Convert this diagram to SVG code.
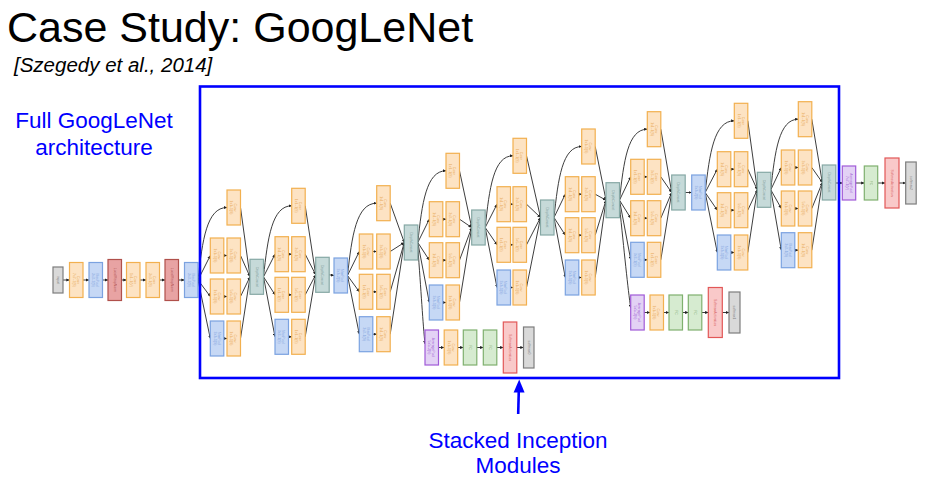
<svg xmlns="http://www.w3.org/2000/svg" width="927" height="485" viewBox="0 0 927 485">
<style>
rect{stroke-width:1.2}
.cv{fill:#fde3c3;stroke:#f2b04f}
.mp{fill:#c6d8f5;stroke:#7ba2e0}
.lr{fill:#e8a3a3;stroke:#b0504b}
.dc{fill:#c6dad9;stroke:#86a8a5}
.ip{fill:#d9d9d9;stroke:#7d7d7d}
.ap{fill:#e3d2f5;stroke:#a05ad8}
.fc{fill:#d6ebd0;stroke:#7fb06e}
.sa{fill:#f9c9c9;stroke:#e25757}
.t{font-family:"Liberation Sans",Arial,sans-serif;font-size:3.4px;text-anchor:middle;opacity:0.75}
.tcv{fill:#e39a3c}.tmp{fill:#6f95d8}.tlr{fill:#a0403c}.tdc{fill:#6d8f8c}.tip{fill:#666}.tap{fill:#9048cc}.tfc{fill:#6fa05e}.tsa{fill:#d04848}
#connectors path{fill:none;stroke:#333;stroke-width:0.95;marker-end:url(#ah)}
.big{font-family:"Liberation Sans",Arial,sans-serif}
.blue{fill:#0000ff;font-size:22.5px;text-anchor:middle}
</style>
<defs>
<marker id="ah" viewBox="0 0 6 6" refX="6" refY="3" markerWidth="3.2" markerHeight="3.2" markerUnits="userSpaceOnUse" orient="auto"><path d="M0,0L6,3L0,6z" fill="#222"/></marker>
</defs>
<rect x="0" y="0" width="927" height="485" fill="#fff" style="stroke:none"/>
<text class="big" x="7" y="42" font-size="43" fill="#000">Case Study: GoogLeNet</text>
<text class="big" x="14" y="72" font-size="20.5" font-style="italic" fill="#000">[Szegedy et al., 2014]</text>
<text class="big blue" x="94" y="128">Full GoogLeNet</text>
<text class="big blue" x="94" y="155">architecture</text>
<text class="big blue" x="518" y="448">Stacked Inception</text>
<text class="big blue" x="518" y="473">Modules</text>

<g id="connectors">
<path d="M63,280L69.5,280"/><path d="M83,280L89,280"/><path d="M102.5,280L108,280"/><path d="M121.5,280L126.5,280"/><path d="M140,280L146,280"/><path d="M159.5,280L165,280"/><path d="M178.5,280L184.5,280"/>
<path d="M198,280C202.4,240.1 206.7,207.5 227,207.5"/><path d="M198,280L210.3,255.5"/><path d="M198,280L210.3,296.5"/><path d="M198,280L210.3,338.5"/>
<path d="M223.8,255.5L227,255.5"/><path d="M223.8,296.5L227,296.5"/><path d="M223.8,338.5L227,338.5"/>
<path d="M240.5,207.5L250,276.8"/><path d="M240.5,255.5L250,276.8"/><path d="M240.5,296.5L250,276.8"/><path d="M240.5,338.5L250,276.8"/>
<path d="M263.5,276.8C267.7,237.8 272,205.8 291.7,205.8"/><path d="M263.5,276.8L275,254.2"/><path d="M263.5,276.8L275,294.8"/><path d="M263.5,276.8L275,336.8"/>
<path d="M288.5,254.2L291.7,254.2"/><path d="M288.5,294.8L291.7,294.8"/><path d="M288.5,336.8L291.7,336.8"/>
<path d="M305.2,205.8L315.7,274.8"/><path d="M305.2,254.2L315.7,274.8"/><path d="M305.2,294.8L315.7,274.8"/><path d="M305.2,336.8L315.7,274.8"/>
<path d="M329.2,274.8L334,275.5"/>
<path d="M347.5,275.5C351.9,235.7 356.3,203.2 376.7,203.2"/><path d="M347.5,275.5L359.3,251.5"/><path d="M347.5,275.5L359.3,291.8"/><path d="M347.5,275.5L359.3,334.2"/>
<path d="M372.8,251.5L376.7,251.5"/><path d="M372.8,291.8L376.7,291.8"/><path d="M372.8,334.2L376.7,334.2"/>
<path d="M390.2,203.2L404.3,242.5"/><path d="M390.2,251.5L404.3,242.5"/><path d="M390.2,291.8L404.3,242.5"/><path d="M390.2,334.2L404.3,242.5"/>
<path d="M417.8,242.5C422,203.1 426.3,170.8 446,170.8"/><path d="M417.8,242.5L429.3,219.2"/><path d="M417.8,242.5L429.3,260.2"/><path d="M417.8,242.5L429.3,302.5"/>
<path d="M442.8,219.2L446,219.2"/><path d="M442.8,260.2L446,260.2"/><path d="M442.8,302.5L446,302.5"/>
<path d="M459.5,170.8L471.7,227.5"/><path d="M459.5,219.2L471.7,227.5"/><path d="M459.5,260.2L471.7,227.5"/><path d="M459.5,302.5L471.7,227.5"/>
<path d="M485.2,227.5C489.4,188.1 493.5,155.8 513,155.8"/><path d="M485.2,227.5L497,204.2"/><path d="M485.2,227.5L497,244.8"/><path d="M485.2,227.5L497,287.5"/>
<path d="M510.5,204.2L513,204.2"/><path d="M510.5,244.8L513,244.8"/><path d="M510.5,287.5L513,287.5"/>
<path d="M526.5,155.8L540.5,217.5"/><path d="M526.5,204.2L540.5,217.5"/><path d="M526.5,244.8L540.5,217.5"/><path d="M526.5,287.5L540.5,217.5"/>
<path d="M554,217.5C558.2,178.4 562.3,146.5 581.7,146.5"/><path d="M554,217.5L565.3,194.2"/><path d="M554,217.5L565.3,235.2"/><path d="M554,217.5L565.3,277.5"/>
<path d="M578.8,194.2L581.7,194.2"/><path d="M578.8,235.2L581.7,235.2"/><path d="M578.8,277.5L581.7,277.5"/>
<path d="M595.2,146.5L606,200.2"/><path d="M595.2,194.2L606,200.2"/><path d="M595.2,235.2L606,200.2"/><path d="M595.2,277.5L606,200.2"/>
<path d="M619.5,200.2C623.7,161.1 627.8,129.2 647.3,129.2"/><path d="M619.5,200.2L630.7,176.8"/><path d="M619.5,200.2L630.7,218.2"/><path d="M619.5,200.2L630.7,259.8"/>
<path d="M644.2,176.8L647.3,176.8"/><path d="M644.2,218.2L647.3,218.2"/><path d="M644.2,259.8L647.3,259.8"/>
<path d="M660.8,129.2L671.7,192.5"/><path d="M660.8,176.8L671.7,192.5"/><path d="M660.8,218.2L671.7,192.5"/><path d="M660.8,259.8L671.7,192.5"/>
<path d="M685.2,192.5L691.7,192.5"/>
<path d="M705.2,192.5C709.6,153.1 714,120.8 734.3,120.8"/><path d="M705.2,192.5L717.3,169.2"/><path d="M705.2,192.5L717.3,210.2"/><path d="M705.2,192.5L717.3,252.5"/>
<path d="M730.8,169.2L734.3,169.2"/><path d="M730.8,210.2L734.3,210.2"/><path d="M730.8,252.5L734.3,252.5"/>
<path d="M747.8,120.8L757.3,189.8"/><path d="M747.8,169.2L757.3,189.8"/><path d="M747.8,210.2L757.3,189.8"/><path d="M747.8,252.5L757.3,189.8"/>
<path d="M770.8,189.8C774.9,151 779.1,119.2 798.3,119.2"/><path d="M770.8,189.8L781.3,167.5"/><path d="M770.8,189.8L781.3,208.5"/><path d="M770.8,189.8L781.3,250.2"/>
<path d="M794.8,167.5L798.3,167.5"/><path d="M794.8,208.5L798.3,208.5"/><path d="M794.8,250.2L798.3,250.2"/>
<path d="M811.8,119.2L822.3,182.5"/><path d="M811.8,167.5L822.3,182.5"/><path d="M811.8,208.5L822.3,182.5"/><path d="M811.8,250.2L822.3,182.5"/>
<path d="M835.8,183L842.3,183"/><path d="M855.7,183L864.3,183"/><path d="M877.7,183L885,183"/><path d="M899,183L905.7,183"/>
<path d="M417.8,247C421,290 423,325 425,344"/>
<path d="M438.5,347.5L444.2,347.5"/><path d="M457.7,347.5L463.3,347.5"/><path d="M476.8,347.5L483.3,347.5"/><path d="M496.8,347.5L503.3,347.5"/><path d="M516.8,347.5L523.5,347.5"/>
<path d="M619.5,206C624,250 628,290 630.7,308"/>
<path d="M644.2,312.5L650,312.5"/><path d="M663.5,312.5L669,312.5"/><path d="M682.5,312.5L688.3,312.5"/><path d="M701.8,312.5L708.3,312.5"/><path d="M722.3,312.5L729,312.5"/>
</g>

<!-- stem -->
<g id="input"><rect class="ip" x="53" y="267" width="10" height="26"/><text class="t tip" x="58" y="281.2" transform="rotate(90 58 280)">input</text></g>
<g id="conv1"><rect class="cv" x="69.5" y="262.5" width="13.5" height="35"/><text class="t tcv" x="76.25" y="280" transform="rotate(90 76.25 280)"><tspan x="76.25" dy="-.6">Conv</tspan><tspan x="76.25" dy="4">7x7+2(S)</tspan></text></g>
<g id="pool1"><rect class="mp" x="89" y="262.5" width="13.5" height="35"/><text class="t tmp" x="95.75" y="280" transform="rotate(90 95.75 280)"><tspan x="95.75" dy="-.6">MaxPool</tspan><tspan x="95.75" dy="4">3x3+2(S)</tspan></text></g>
<g id="lrn1"><rect class="lr" x="108" y="259.5" width="13.5" height="41"/><text class="t tlr" x="114.75" y="281.2" transform="rotate(90 114.75 280)">LocalRespNorm</text></g>
<g id="conv2"><rect class="cv" x="126.5" y="262.5" width="13.5" height="35"/><text class="t tcv" x="133.25" y="280" transform="rotate(90 133.25 280)"><tspan x="133.25" dy="-.6">Conv</tspan><tspan x="133.25" dy="4">1x1+1(V)</tspan></text></g>
<g id="conv3"><rect class="cv" x="146" y="262.5" width="13.5" height="35"/><text class="t tcv" x="152.75" y="280" transform="rotate(90 152.75 280)"><tspan x="152.75" dy="-.6">Conv</tspan><tspan x="152.75" dy="4">3x3+1(S)</tspan></text></g>
<g id="lrn2"><rect class="lr" x="165" y="259.5" width="13.5" height="41"/><text class="t tlr" x="171.75" y="281.2" transform="rotate(90 171.75 280)">LocalRespNorm</text></g>
<g id="pool2"><rect class="mp" x="184.5" y="262.5" width="13.5" height="35"/><text class="t tmp" x="191.25" y="280" transform="rotate(90 191.25 280)"><tspan x="191.25" dy="-.6">MaxPool</tspan><tspan x="191.25" dy="4">3x3+2(S)</tspan></text></g>

<!-- M1 -->
<g id="m1-top"><rect class="cv" x="227" y="190" width="13.5" height="35"/><text class="t tcv" x="233.75" y="207.5" transform="rotate(90 233.75 207.5)"><tspan x="233.75" dy="-.6">Conv</tspan><tspan x="233.75" dy="4">1x1+1(S)</tspan></text></g>
<g id="m1-r2l"><rect class="cv" x="210.3" y="238" width="13.5" height="35"/><text class="t tcv" x="217.05" y="255.5" transform="rotate(90 217.05 255.5)"><tspan x="217.05" dy="-.6">Conv</tspan><tspan x="217.05" dy="4">1x1+1(S)</tspan></text></g>
<g id="m1-r2r"><rect class="cv" x="227" y="238" width="13.5" height="35"/><text class="t tcv" x="233.75" y="255.5" transform="rotate(90 233.75 255.5)"><tspan x="233.75" dy="-.6">Conv</tspan><tspan x="233.75" dy="4">3x3+1(S)</tspan></text></g>
<g id="m1-r3l"><rect class="cv" x="210.3" y="279" width="13.5" height="35"/><text class="t tcv" x="217.05" y="296.5" transform="rotate(90 217.05 296.5)"><tspan x="217.05" dy="-.6">Conv</tspan><tspan x="217.05" dy="4">1x1+1(S)</tspan></text></g>
<g id="m1-r3r"><rect class="cv" x="227" y="279" width="13.5" height="35"/><text class="t tcv" x="233.75" y="296.5" transform="rotate(90 233.75 296.5)"><tspan x="233.75" dy="-.6">Conv</tspan><tspan x="233.75" dy="4">5x5+1(S)</tspan></text></g>
<g id="m1-r4l"><rect class="mp" x="210.3" y="321" width="13.5" height="35"/><text class="t tmp" x="217.05" y="338.5" transform="rotate(90 217.05 338.5)"><tspan x="217.05" dy="-.6">MaxPool</tspan><tspan x="217.05" dy="4">3x3+1(S)</tspan></text></g>
<g id="m1-r4r"><rect class="cv" x="227" y="321" width="13.5" height="35"/><text class="t tcv" x="233.75" y="338.5" transform="rotate(90 233.75 338.5)"><tspan x="233.75" dy="-.6">Conv</tspan><tspan x="233.75" dy="4">1x1+1(S)</tspan></text></g>
<g id="m1-concat"><rect class="dc" x="250" y="259.3" width="13.5" height="35"/><text class="t tdc" x="256.75" y="278" transform="rotate(90 256.75 276.8)">DepthConcat</text></g>

<!-- M2 -->
<g id="m2-top"><rect class="cv" x="291.7" y="188.3" width="13.5" height="35"/><text class="t tcv" x="298.45" y="205.8" transform="rotate(90 298.45 205.8)"><tspan x="298.45" dy="-.6">Conv</tspan><tspan x="298.45" dy="4">1x1+1(S)</tspan></text></g>
<g id="m2-r2l"><rect class="cv" x="275" y="236.7" width="13.5" height="35"/><text class="t tcv" x="281.75" y="254.2" transform="rotate(90 281.75 254.2)"><tspan x="281.75" dy="-.6">Conv</tspan><tspan x="281.75" dy="4">1x1+1(S)</tspan></text></g>
<g id="m2-r2r"><rect class="cv" x="291.7" y="236.7" width="13.5" height="35"/><text class="t tcv" x="298.45" y="254.2" transform="rotate(90 298.45 254.2)"><tspan x="298.45" dy="-.6">Conv</tspan><tspan x="298.45" dy="4">3x3+1(S)</tspan></text></g>
<g id="m2-r3l"><rect class="cv" x="275" y="277.3" width="13.5" height="35"/><text class="t tcv" x="281.75" y="294.8" transform="rotate(90 281.75 294.8)"><tspan x="281.75" dy="-.6">Conv</tspan><tspan x="281.75" dy="4">1x1+1(S)</tspan></text></g>
<g id="m2-r3r"><rect class="cv" x="291.7" y="277.3" width="13.5" height="35"/><text class="t tcv" x="298.45" y="294.8" transform="rotate(90 298.45 294.8)"><tspan x="298.45" dy="-.6">Conv</tspan><tspan x="298.45" dy="4">5x5+1(S)</tspan></text></g>
<g id="m2-r4l"><rect class="mp" x="275" y="319.3" width="13.5" height="35"/><text class="t tmp" x="281.75" y="336.8" transform="rotate(90 281.75 336.8)"><tspan x="281.75" dy="-.6">MaxPool</tspan><tspan x="281.75" dy="4">3x3+1(S)</tspan></text></g>
<g id="m2-r4r"><rect class="cv" x="291.7" y="319.3" width="13.5" height="35"/><text class="t tcv" x="298.45" y="336.8" transform="rotate(90 298.45 336.8)"><tspan x="298.45" dy="-.6">Conv</tspan><tspan x="298.45" dy="4">1x1+1(S)</tspan></text></g>
<g id="m2-concat"><rect class="dc" x="315.7" y="257.3" width="13.5" height="35"/><text class="t tdc" x="322.45" y="276" transform="rotate(90 322.45 274.8)">DepthConcat</text></g>
<g id="pool3"><rect class="mp" x="334" y="258" width="13.5" height="35"/><text class="t tmp" x="340.75" y="275.5" transform="rotate(90 340.75 275.5)"><tspan x="340.75" dy="-.6">MaxPool</tspan><tspan x="340.75" dy="4">3x3+2(S)</tspan></text></g>

<!-- M3 -->
<g id="m3-top"><rect class="cv" x="376.7" y="185.7" width="13.5" height="35"/><text class="t tcv" x="383.45" y="203.2" transform="rotate(90 383.45 203.2)"><tspan x="383.45" dy="-.6">Conv</tspan><tspan x="383.45" dy="4">1x1+1(S)</tspan></text></g>
<g id="m3-r2l"><rect class="cv" x="359.3" y="234" width="13.5" height="35"/><text class="t tcv" x="366.05" y="251.5" transform="rotate(90 366.05 251.5)"><tspan x="366.05" dy="-.6">Conv</tspan><tspan x="366.05" dy="4">1x1+1(S)</tspan></text></g>
<g id="m3-r2r"><rect class="cv" x="376.7" y="234" width="13.5" height="35"/><text class="t tcv" x="383.45" y="251.5" transform="rotate(90 383.45 251.5)"><tspan x="383.45" dy="-.6">Conv</tspan><tspan x="383.45" dy="4">3x3+1(S)</tspan></text></g>
<g id="m3-r3l"><rect class="cv" x="359.3" y="274.3" width="13.5" height="35"/><text class="t tcv" x="366.05" y="291.8" transform="rotate(90 366.05 291.8)"><tspan x="366.05" dy="-.6">Conv</tspan><tspan x="366.05" dy="4">1x1+1(S)</tspan></text></g>
<g id="m3-r3r"><rect class="cv" x="376.7" y="274.3" width="13.5" height="35"/><text class="t tcv" x="383.45" y="291.8" transform="rotate(90 383.45 291.8)"><tspan x="383.45" dy="-.6">Conv</tspan><tspan x="383.45" dy="4">5x5+1(S)</tspan></text></g>
<g id="m3-r4l"><rect class="mp" x="359.3" y="316.7" width="13.5" height="35"/><text class="t tmp" x="366.05" y="334.2" transform="rotate(90 366.05 334.2)"><tspan x="366.05" dy="-.6">MaxPool</tspan><tspan x="366.05" dy="4">3x3+1(S)</tspan></text></g>
<g id="m3-r4r"><rect class="cv" x="376.7" y="316.7" width="13.5" height="35"/><text class="t tcv" x="383.45" y="334.2" transform="rotate(90 383.45 334.2)"><tspan x="383.45" dy="-.6">Conv</tspan><tspan x="383.45" dy="4">1x1+1(S)</tspan></text></g>
<g id="m3-concat"><rect class="dc" x="404.3" y="225" width="13.5" height="35"/><text class="t tdc" x="411.05" y="243.7" transform="rotate(90 411.05 242.5)">DepthConcat</text></g>

<!-- M4 -->
<g id="m4-top"><rect class="cv" x="446" y="153.3" width="13.5" height="35"/><text class="t tcv" x="452.75" y="170.8" transform="rotate(90 452.75 170.8)"><tspan x="452.75" dy="-.6">Conv</tspan><tspan x="452.75" dy="4">1x1+1(S)</tspan></text></g>
<g id="m4-r2l"><rect class="cv" x="429.3" y="201.7" width="13.5" height="35"/><text class="t tcv" x="436.05" y="219.2" transform="rotate(90 436.05 219.2)"><tspan x="436.05" dy="-.6">Conv</tspan><tspan x="436.05" dy="4">1x1+1(S)</tspan></text></g>
<g id="m4-r2r"><rect class="cv" x="446" y="201.7" width="13.5" height="35"/><text class="t tcv" x="452.75" y="219.2" transform="rotate(90 452.75 219.2)"><tspan x="452.75" dy="-.6">Conv</tspan><tspan x="452.75" dy="4">3x3+1(S)</tspan></text></g>
<g id="m4-r3l"><rect class="cv" x="429.3" y="242.7" width="13.5" height="35"/><text class="t tcv" x="436.05" y="260.2" transform="rotate(90 436.05 260.2)"><tspan x="436.05" dy="-.6">Conv</tspan><tspan x="436.05" dy="4">1x1+1(S)</tspan></text></g>
<g id="m4-r3r"><rect class="cv" x="446" y="242.7" width="13.5" height="35"/><text class="t tcv" x="452.75" y="260.2" transform="rotate(90 452.75 260.2)"><tspan x="452.75" dy="-.6">Conv</tspan><tspan x="452.75" dy="4">5x5+1(S)</tspan></text></g>
<g id="m4-r4l"><rect class="mp" x="429.3" y="285" width="13.5" height="35"/><text class="t tmp" x="436.05" y="302.5" transform="rotate(90 436.05 302.5)"><tspan x="436.05" dy="-.6">MaxPool</tspan><tspan x="436.05" dy="4">3x3+1(S)</tspan></text></g>
<g id="m4-r4r"><rect class="cv" x="446" y="285" width="13.5" height="35"/><text class="t tcv" x="452.75" y="302.5" transform="rotate(90 452.75 302.5)"><tspan x="452.75" dy="-.6">Conv</tspan><tspan x="452.75" dy="4">1x1+1(S)</tspan></text></g>
<g id="m4-concat"><rect class="dc" x="471.7" y="210" width="13.5" height="35"/><text class="t tdc" x="478.45" y="228.7" transform="rotate(90 478.45 227.5)">DepthConcat</text></g>

<!-- M5 -->
<g id="m5-top"><rect class="cv" x="513" y="138.3" width="13.5" height="35"/><text class="t tcv" x="519.75" y="155.8" transform="rotate(90 519.75 155.8)"><tspan x="519.75" dy="-.6">Conv</tspan><tspan x="519.75" dy="4">1x1+1(S)</tspan></text></g>
<g id="m5-r2l"><rect class="cv" x="497" y="186.7" width="13.5" height="35"/><text class="t tcv" x="503.75" y="204.2" transform="rotate(90 503.75 204.2)"><tspan x="503.75" dy="-.6">Conv</tspan><tspan x="503.75" dy="4">1x1+1(S)</tspan></text></g>
<g id="m5-r2r"><rect class="cv" x="513" y="186.7" width="13.5" height="35"/><text class="t tcv" x="519.75" y="204.2" transform="rotate(90 519.75 204.2)"><tspan x="519.75" dy="-.6">Conv</tspan><tspan x="519.75" dy="4">3x3+1(S)</tspan></text></g>
<g id="m5-r3l"><rect class="cv" x="497" y="227.3" width="13.5" height="35"/><text class="t tcv" x="503.75" y="244.8" transform="rotate(90 503.75 244.8)"><tspan x="503.75" dy="-.6">Conv</tspan><tspan x="503.75" dy="4">1x1+1(S)</tspan></text></g>
<g id="m5-r3r"><rect class="cv" x="513" y="227.3" width="13.5" height="35"/><text class="t tcv" x="519.75" y="244.8" transform="rotate(90 519.75 244.8)"><tspan x="519.75" dy="-.6">Conv</tspan><tspan x="519.75" dy="4">5x5+1(S)</tspan></text></g>
<g id="m5-r4l"><rect class="mp" x="497" y="270" width="13.5" height="35"/><text class="t tmp" x="503.75" y="287.5" transform="rotate(90 503.75 287.5)"><tspan x="503.75" dy="-.6">MaxPool</tspan><tspan x="503.75" dy="4">3x3+1(S)</tspan></text></g>
<g id="m5-r4r"><rect class="cv" x="513" y="270" width="13.5" height="35"/><text class="t tcv" x="519.75" y="287.5" transform="rotate(90 519.75 287.5)"><tspan x="519.75" dy="-.6">Conv</tspan><tspan x="519.75" dy="4">1x1+1(S)</tspan></text></g>
<g id="m5-concat"><rect class="dc" x="540.5" y="200" width="13.5" height="35"/><text class="t tdc" x="547.25" y="218.7" transform="rotate(90 547.25 217.5)">DepthConcat</text></g>

<!-- M6 -->
<g id="m6-top"><rect class="cv" x="581.7" y="129" width="13.5" height="35"/><text class="t tcv" x="588.45" y="146.5" transform="rotate(90 588.45 146.5)"><tspan x="588.45" dy="-.6">Conv</tspan><tspan x="588.45" dy="4">1x1+1(S)</tspan></text></g>
<g id="m6-r2l"><rect class="cv" x="565.3" y="176.7" width="13.5" height="35"/><text class="t tcv" x="572.05" y="194.2" transform="rotate(90 572.05 194.2)"><tspan x="572.05" dy="-.6">Conv</tspan><tspan x="572.05" dy="4">1x1+1(S)</tspan></text></g>
<g id="m6-r2r"><rect class="cv" x="581.7" y="176.7" width="13.5" height="35"/><text class="t tcv" x="588.45" y="194.2" transform="rotate(90 588.45 194.2)"><tspan x="588.45" dy="-.6">Conv</tspan><tspan x="588.45" dy="4">3x3+1(S)</tspan></text></g>
<g id="m6-r3l"><rect class="cv" x="565.3" y="217.7" width="13.5" height="35"/><text class="t tcv" x="572.05" y="235.2" transform="rotate(90 572.05 235.2)"><tspan x="572.05" dy="-.6">Conv</tspan><tspan x="572.05" dy="4">1x1+1(S)</tspan></text></g>
<g id="m6-r3r"><rect class="cv" x="581.7" y="217.7" width="13.5" height="35"/><text class="t tcv" x="588.45" y="235.2" transform="rotate(90 588.45 235.2)"><tspan x="588.45" dy="-.6">Conv</tspan><tspan x="588.45" dy="4">5x5+1(S)</tspan></text></g>
<g id="m6-r4l"><rect class="mp" x="565.3" y="260" width="13.5" height="35"/><text class="t tmp" x="572.05" y="277.5" transform="rotate(90 572.05 277.5)"><tspan x="572.05" dy="-.6">MaxPool</tspan><tspan x="572.05" dy="4">3x3+1(S)</tspan></text></g>
<g id="m6-r4r"><rect class="cv" x="581.7" y="260" width="13.5" height="35"/><text class="t tcv" x="588.45" y="277.5" transform="rotate(90 588.45 277.5)"><tspan x="588.45" dy="-.6">Conv</tspan><tspan x="588.45" dy="4">1x1+1(S)</tspan></text></g>
<g id="m6-concat"><rect class="dc" x="606" y="182.7" width="13.5" height="35"/><text class="t tdc" x="612.75" y="201.4" transform="rotate(90 612.75 200.2)">DepthConcat</text></g>

<!-- M7 -->
<g id="m7-top"><rect class="cv" x="647.3" y="111.7" width="13.5" height="35"/><text class="t tcv" x="654.05" y="129.2" transform="rotate(90 654.05 129.2)"><tspan x="654.05" dy="-.6">Conv</tspan><tspan x="654.05" dy="4">1x1+1(S)</tspan></text></g>
<g id="m7-r2l"><rect class="cv" x="630.7" y="159.3" width="13.5" height="35"/><text class="t tcv" x="637.45" y="176.8" transform="rotate(90 637.45 176.8)"><tspan x="637.45" dy="-.6">Conv</tspan><tspan x="637.45" dy="4">1x1+1(S)</tspan></text></g>
<g id="m7-r2r"><rect class="cv" x="647.3" y="159.3" width="13.5" height="35"/><text class="t tcv" x="654.05" y="176.8" transform="rotate(90 654.05 176.8)"><tspan x="654.05" dy="-.6">Conv</tspan><tspan x="654.05" dy="4">3x3+1(S)</tspan></text></g>
<g id="m7-r3l"><rect class="cv" x="630.7" y="200.7" width="13.5" height="35"/><text class="t tcv" x="637.45" y="218.2" transform="rotate(90 637.45 218.2)"><tspan x="637.45" dy="-.6">Conv</tspan><tspan x="637.45" dy="4">1x1+1(S)</tspan></text></g>
<g id="m7-r3r"><rect class="cv" x="647.3" y="200.7" width="13.5" height="35"/><text class="t tcv" x="654.05" y="218.2" transform="rotate(90 654.05 218.2)"><tspan x="654.05" dy="-.6">Conv</tspan><tspan x="654.05" dy="4">5x5+1(S)</tspan></text></g>
<g id="m7-r4l"><rect class="mp" x="630.7" y="242.3" width="13.5" height="35"/><text class="t tmp" x="637.45" y="259.8" transform="rotate(90 637.45 259.8)"><tspan x="637.45" dy="-.6">MaxPool</tspan><tspan x="637.45" dy="4">3x3+1(S)</tspan></text></g>
<g id="m7-r4r"><rect class="cv" x="647.3" y="242.3" width="13.5" height="35"/><text class="t tcv" x="654.05" y="259.8" transform="rotate(90 654.05 259.8)"><tspan x="654.05" dy="-.6">Conv</tspan><tspan x="654.05" dy="4">1x1+1(S)</tspan></text></g>
<g id="m7-concat"><rect class="dc" x="671.7" y="175" width="13.5" height="35"/><text class="t tdc" x="678.45" y="193.7" transform="rotate(90 678.45 192.5)">DepthConcat</text></g>
<g id="pool4"><rect class="mp" x="691.7" y="175" width="13.5" height="35"/><text class="t tmp" x="698.45" y="192.5" transform="rotate(90 698.45 192.5)"><tspan x="698.45" dy="-.6">MaxPool</tspan><tspan x="698.45" dy="4">3x3+2(S)</tspan></text></g>

<!-- M8 -->
<g id="m8-top"><rect class="cv" x="734.3" y="103.3" width="13.5" height="35"/><text class="t tcv" x="741.05" y="120.8" transform="rotate(90 741.05 120.8)"><tspan x="741.05" dy="-.6">Conv</tspan><tspan x="741.05" dy="4">1x1+1(S)</tspan></text></g>
<g id="m8-r2l"><rect class="cv" x="717.3" y="151.7" width="13.5" height="35"/><text class="t tcv" x="724.05" y="169.2" transform="rotate(90 724.05 169.2)"><tspan x="724.05" dy="-.6">Conv</tspan><tspan x="724.05" dy="4">1x1+1(S)</tspan></text></g>
<g id="m8-r2r"><rect class="cv" x="734.3" y="151.7" width="13.5" height="35"/><text class="t tcv" x="741.05" y="169.2" transform="rotate(90 741.05 169.2)"><tspan x="741.05" dy="-.6">Conv</tspan><tspan x="741.05" dy="4">3x3+1(S)</tspan></text></g>
<g id="m8-r3l"><rect class="cv" x="717.3" y="192.7" width="13.5" height="35"/><text class="t tcv" x="724.05" y="210.2" transform="rotate(90 724.05 210.2)"><tspan x="724.05" dy="-.6">Conv</tspan><tspan x="724.05" dy="4">1x1+1(S)</tspan></text></g>
<g id="m8-r3r"><rect class="cv" x="734.3" y="192.7" width="13.5" height="35"/><text class="t tcv" x="741.05" y="210.2" transform="rotate(90 741.05 210.2)"><tspan x="741.05" dy="-.6">Conv</tspan><tspan x="741.05" dy="4">5x5+1(S)</tspan></text></g>
<g id="m8-r4l"><rect class="mp" x="717.3" y="235" width="13.5" height="35"/><text class="t tmp" x="724.05" y="252.5" transform="rotate(90 724.05 252.5)"><tspan x="724.05" dy="-.6">MaxPool</tspan><tspan x="724.05" dy="4">3x3+1(S)</tspan></text></g>
<g id="m8-r4r"><rect class="cv" x="734.3" y="235" width="13.5" height="35"/><text class="t tcv" x="741.05" y="252.5" transform="rotate(90 741.05 252.5)"><tspan x="741.05" dy="-.6">Conv</tspan><tspan x="741.05" dy="4">1x1+1(S)</tspan></text></g>
<g id="m8-concat"><rect class="dc" x="757.3" y="172.3" width="13.5" height="35"/><text class="t tdc" x="764.05" y="191" transform="rotate(90 764.05 189.8)">DepthConcat</text></g>

<!-- M9 -->
<g id="m9-top"><rect class="cv" x="798.3" y="101.7" width="13.5" height="35"/><text class="t tcv" x="805.05" y="119.2" transform="rotate(90 805.05 119.2)"><tspan x="805.05" dy="-.6">Conv</tspan><tspan x="805.05" dy="4">1x1+1(S)</tspan></text></g>
<g id="m9-r2l"><rect class="cv" x="781.3" y="150" width="13.5" height="35"/><text class="t tcv" x="788.05" y="167.5" transform="rotate(90 788.05 167.5)"><tspan x="788.05" dy="-.6">Conv</tspan><tspan x="788.05" dy="4">1x1+1(S)</tspan></text></g>
<g id="m9-r2r"><rect class="cv" x="798.3" y="150" width="13.5" height="35"/><text class="t tcv" x="805.05" y="167.5" transform="rotate(90 805.05 167.5)"><tspan x="805.05" dy="-.6">Conv</tspan><tspan x="805.05" dy="4">3x3+1(S)</tspan></text></g>
<g id="m9-r3l"><rect class="cv" x="781.3" y="191" width="13.5" height="35"/><text class="t tcv" x="788.05" y="208.5" transform="rotate(90 788.05 208.5)"><tspan x="788.05" dy="-.6">Conv</tspan><tspan x="788.05" dy="4">1x1+1(S)</tspan></text></g>
<g id="m9-r3r"><rect class="cv" x="798.3" y="191" width="13.5" height="35"/><text class="t tcv" x="805.05" y="208.5" transform="rotate(90 805.05 208.5)"><tspan x="805.05" dy="-.6">Conv</tspan><tspan x="805.05" dy="4">5x5+1(S)</tspan></text></g>
<g id="m9-r4l"><rect class="mp" x="781.3" y="232.7" width="13.5" height="35"/><text class="t tmp" x="788.05" y="250.2" transform="rotate(90 788.05 250.2)"><tspan x="788.05" dy="-.6">MaxPool</tspan><tspan x="788.05" dy="4">3x3+1(S)</tspan></text></g>
<g id="m9-r4r"><rect class="cv" x="798.3" y="232.7" width="13.5" height="35"/><text class="t tcv" x="805.05" y="250.2" transform="rotate(90 805.05 250.2)"><tspan x="805.05" dy="-.6">Conv</tspan><tspan x="805.05" dy="4">1x1+1(S)</tspan></text></g>
<g id="m9-concat"><rect class="dc" x="822.3" y="165" width="13.5" height="35"/><text class="t tdc" x="829.05" y="183.7" transform="rotate(90 829.05 182.5)">DepthConcat</text></g>

<!-- final -->
<g id="avgpool"><rect class="ap" x="842.3" y="166" width="13.4" height="34"/><text class="t tap" x="849" y="183" transform="rotate(90 849 183)"><tspan x="849" dy="-.6">AveragePool</tspan><tspan x="849" dy="4">7x7+1(V)</tspan></text></g>
<g id="fc"><rect class="fc" x="864.3" y="166" width="13.4" height="34"/><text class="t tfc" x="871" y="184.2" transform="rotate(90 871 183)">FC</text></g>
<g id="softmaxact"><rect class="sa" x="885" y="158" width="14" height="50"/><text class="t tsa" x="892" y="184.2" transform="rotate(90 892 183)">SoftmaxActivation</text></g>
<g id="softmax2"><rect class="ip" x="905.7" y="162" width="10.5" height="42"/><text class="t tip" x="910.95" y="184.2" transform="rotate(90 910.95 183)">softmax2</text></g>

<!-- aux 1 -->
<g id="aux1-pool"><rect class="ap" x="425" y="330" width="13.5" height="35"/><text class="t tap" x="431.75" y="347.5" transform="rotate(90 431.75 347.5)"><tspan x="431.75" dy="-.6">AveragePool</tspan><tspan x="431.75" dy="4">5x5+3(V)</tspan></text></g>
<g id="aux1-conv"><rect class="cv" x="444.2" y="330" width="13.5" height="35"/><text class="t tcv" x="450.95" y="347.5" transform="rotate(90 450.95 347.5)"><tspan x="450.95" dy="-.6">Conv</tspan><tspan x="450.95" dy="4">1x1+1(S)</tspan></text></g>
<g id="aux1-fc1"><rect class="fc" x="463.3" y="330" width="13.5" height="35"/><text class="t tfc" x="470.05" y="348.7" transform="rotate(90 470.05 347.5)">FC</text></g>
<g id="aux1-fc2"><rect class="fc" x="483.3" y="330" width="13.5" height="35"/><text class="t tfc" x="490.05" y="348.7" transform="rotate(90 490.05 347.5)">FC</text></g>
<g id="aux1-act"><rect class="sa" x="503.3" y="322" width="13.5" height="51"/><text class="t tsa" x="510.05" y="348.7" transform="rotate(90 510.05 347.5)">SoftmaxActivation</text></g>
<g id="softmax0"><rect class="ip" x="523.5" y="327" width="10.5" height="41"/><text class="t tip" x="528.75" y="348.7" transform="rotate(90 528.75 347.5)">softmax0</text></g>

<!-- aux 2 -->
<g id="aux2-pool"><rect class="ap" x="630.7" y="295" width="13.5" height="35"/><text class="t tap" x="637.45" y="312.5" transform="rotate(90 637.45 312.5)"><tspan x="637.45" dy="-.6">AveragePool</tspan><tspan x="637.45" dy="4">5x5+3(V)</tspan></text></g>
<g id="aux2-conv"><rect class="cv" x="650" y="295" width="13.5" height="35"/><text class="t tcv" x="656.75" y="312.5" transform="rotate(90 656.75 312.5)"><tspan x="656.75" dy="-.6">Conv</tspan><tspan x="656.75" dy="4">1x1+1(S)</tspan></text></g>
<g id="aux2-fc1"><rect class="fc" x="669" y="295" width="13.5" height="35"/><text class="t tfc" x="675.75" y="313.7" transform="rotate(90 675.75 312.5)">FC</text></g>
<g id="aux2-fc2"><rect class="fc" x="688.3" y="295" width="13.5" height="35"/><text class="t tfc" x="695.05" y="313.7" transform="rotate(90 695.05 312.5)">FC</text></g>
<g id="aux2-act"><rect class="sa" x="708.3" y="287.5" width="14" height="50"/><text class="t tsa" x="715.3" y="313.7" transform="rotate(90 715.3 312.5)">SoftmaxActivation</text></g>
<g id="softmax1"><rect class="ip" x="729" y="292" width="11" height="41"/><text class="t tip" x="734.5" y="313.7" transform="rotate(90 734.5 312.5)">softmax1</text></g>

<!-- frame and pointer -->
<g id="frame"><rect x="200" y="86.5" width="639" height="291.5" fill="none" stroke="#0000ff" style="stroke-width:2.6"/></g>
<g id="pointer"><line x1="518.2" y1="414" x2="518.8" y2="390" stroke="#0000ff" stroke-width="2.6"/><polygon points="519.2,379.5 513.6,392.5 524.6,392.5" fill="#0000ff"/></g>
</svg>
